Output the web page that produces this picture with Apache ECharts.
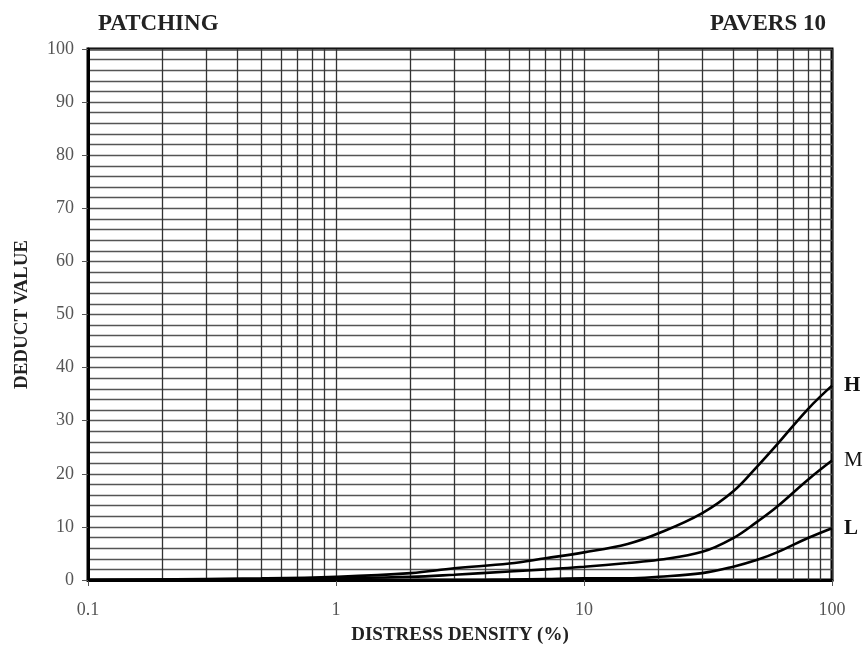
<!DOCTYPE html>
<html>
<head>
<meta charset="utf-8">
<script src="https://cdn.jsdelivr.net/npm/echarts@6/dist/echarts.min.js"></script>
<style>
  html, body { margin: 0; padding: 0; background: #fff; }
  #chart { width: 867px; height: 652px; }
</style>
</head>
<body>
<div id="chart"></div>
<script>
    // distress density (%)
    let density = [0.1, 0.5, 1, 2, 3, 5, 7, 10, 15, 20, 30, 40, 50, 60, 80, 100]
    // deduct values for each severity
    let highVals = [0, 0.3, 0.6, 1.3, 2.2, 3.1, 4.1, 5.2, 6.8, 8.8, 12.6, 16.7, 21.4, 25.5, 32.2, 36.6]
    let medVals  = [0, 0.1, 0.3, 0.6, 1.0, 1.6, 2.0, 2.5, 3.2, 3.8, 5.3, 7.9, 11.0, 13.8, 18.9, 22.5]
    let lowVals  = [0, 0, 0, 0, 0, 0.1, 0.2, 0.3, 0.3, 0.6, 1.3, 2.5, 3.8, 5.2, 7.9, 9.75]
    let xTickLabels = ['0.1', '1', '10', '100']
    let minorX = [0.2, 0.3, 0.4, 0.5, 0.6, 0.7, 0.8, 0.9,
                  2, 3, 4, 5, 6, 7, 8, 9,
                  20, 30, 40, 50, 60, 70, 80, 90]

    const serif = '"Liberation Serif", "DejaVu Serif", serif'

    function pairs(vals) {
        return density.map(function (d, i) { return [d, vals[i]] })
    }

    function curve(name, vals, labelWeight) {
        return {
            name: name,
            type: 'line',
            data: pairs(vals),
            smooth: 0.4,
            showSymbol: false,
            silent: true,
            lineStyle: { color: '#000', width: 2.6 },
            endLabel: {
                show: true,
                formatter: name,
                distance: 12,
                fontFamily: serif,
                fontSize: 21,
                fontWeight: labelWeight,
                color: '#111'
            },
            z: 5
        }
    }

    let chart = echarts.init(document.getElementById('chart'))
    let series = [
        curve('H', highVals, 'bold'),
        curve('M', medVals, 'normal'),
        curve('L', lowVals, 'bold')
    ]
    // vertical lines at 2..9 of every decade
    series[2].markLine = {
        silent: true,
        symbol: 'none',
        label: { show: false },
        lineStyle: { color: '#333', width: 1.3, type: 'solid' },
        z: 1,
        data: minorX.map(function (v) { return { xAxis: v } })
    }

    let option = {
        animation: false,
        title: [
            {
                text: 'PATCHING',
                left: 93, top: 8,
                textStyle: { fontFamily: serif, fontSize: 23, fontWeight: 'bold', color: '#222' }
            },
            {
                text: 'PAVERS 10',
                right: 36, top: 8,
                textStyle: { fontFamily: serif, fontSize: 23, fontWeight: 'bold', color: '#222' }
            }
        ],
        grid: {
            left: 88, right: 35, top: 49, bottom: 72,
            show: true,
            borderColor: '#000',
            borderWidth: 3
        },
        xAxis: {
            type: 'log',
            logBase: 10,
            min: 0.1,
            max: 100,
            name: 'DISTRESS DENSITY (%)',
            nameLocation: 'middle',
            nameGap: 46,
            nameTextStyle: { fontFamily: serif, fontSize: 19, fontWeight: 'bold', color: '#222' },
            axisLine: { show: true, lineStyle: { color: '#000', width: 3 } },
            axisTick: { show: true, length: 6, lineStyle: { color: '#555' } },
            axisLabel: {
                margin: 21,
                fontFamily: serif, fontSize: 18, color: '#555',
                formatter: function (v) {
                    let s = String(Number(v.toPrecision(3)))
                    return xTickLabels.indexOf(s) >= 0 ? s : ''
                }
            },
            splitLine: { show: true, lineStyle: { color: '#333', width: 1.3 } }
        },
        yAxis: {
            type: 'value',
            min: 0,
            max: 100,
            interval: 10,
            name: 'DEDUCT VALUE',
            nameLocation: 'middle',
            nameGap: 56,
            nameTextStyle: { fontFamily: serif, fontSize: 19, fontWeight: 'bold', color: '#222' },
            axisLine: { show: true, lineStyle: { color: '#000', width: 3 } },
            axisTick: { show: true, length: 6, lineStyle: { color: '#555' } },
            axisLabel: { margin: 14, fontFamily: serif, fontSize: 18, color: '#555' },
            splitLine: { show: true, lineStyle: { color: '#555', width: 1.4 } },
            minorTick: { show: false, splitNumber: 5 },
            minorSplitLine: { show: true, lineStyle: { color: '#555', width: 1.4 } }
        },
        series: series
    }
    chart.setOption(option)
    window.addEventListener('resize', function () {
        chart.resize()
    })
</script>
</body>
</html>
